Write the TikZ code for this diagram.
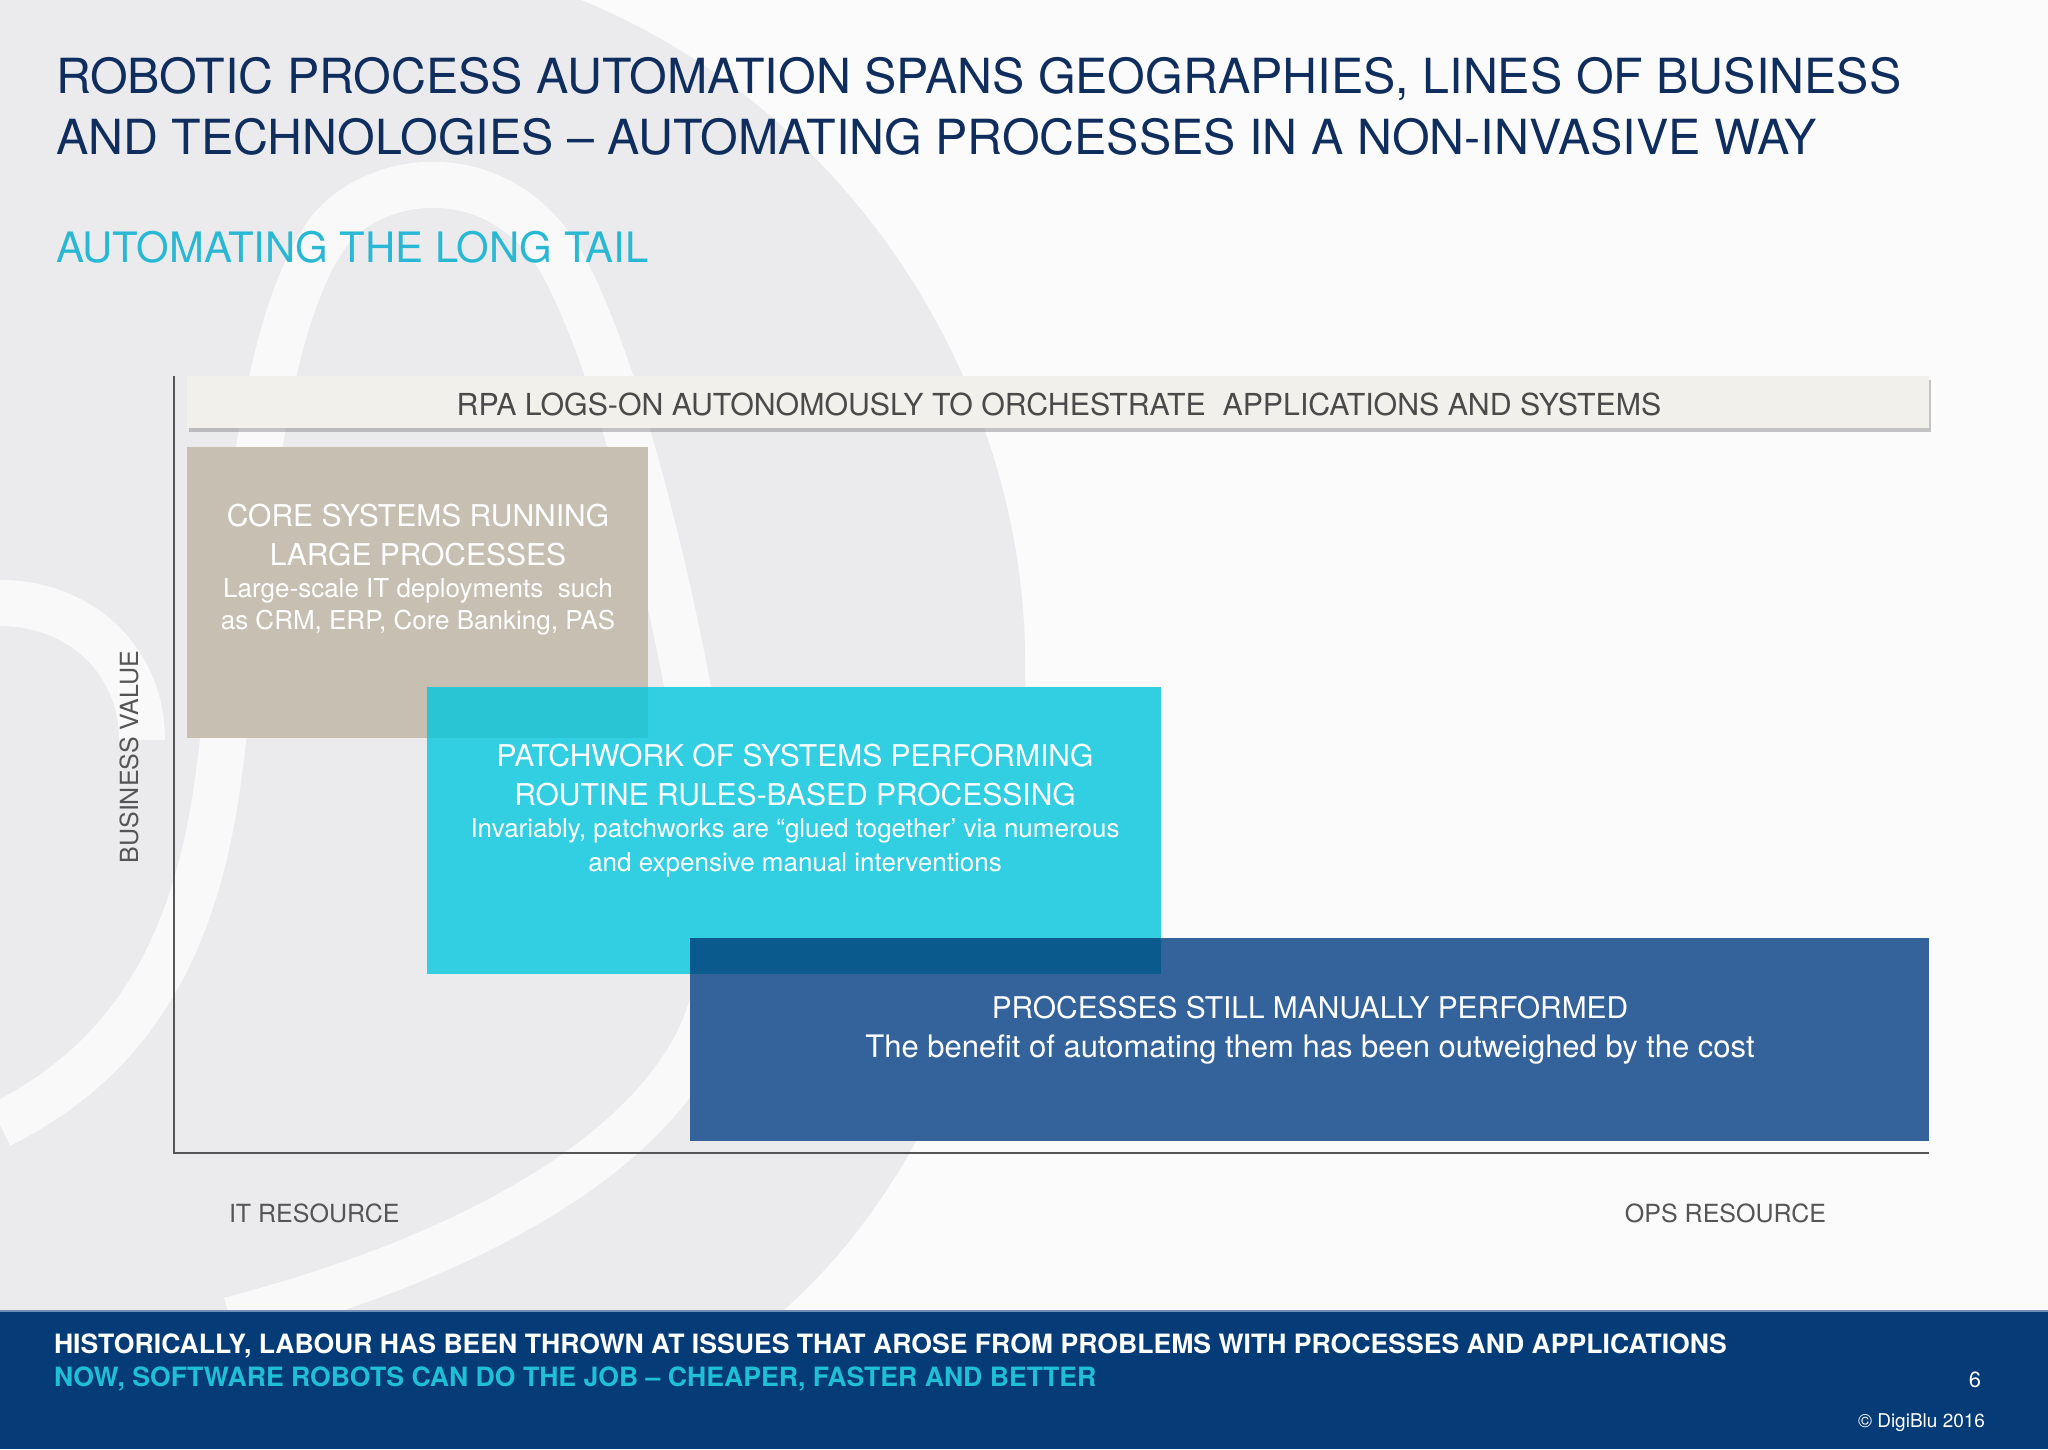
\documentclass[tikz,border=0pt]{standalone}
\usepackage{fontspec}
\setmainfont{TeX Gyre Heros}
\definecolor{navy}{HTML}{0F2E5E}
\definecolor{subcyan}{HTML}{29B8D3}
\definecolor{bgwhite}{HTML}{FBFBFC}
\definecolor{bggray}{HTML}{EBEBED}
\definecolor{barfill}{HTML}{F1F0EB}
\definecolor{bartext}{HTML}{4A4A4A}
\definecolor{corefill}{HTML}{C8BFB3}
\definecolor{patchfill}{HTML}{31CFE1}
\definecolor{ovlone}{HTML}{2AC5D5}
\definecolor{procfill}{HTML}{33639A}
\definecolor{ovltwo}{HTML}{0A5A8E}
\definecolor{axisgray}{HTML}{555555}
\definecolor{labgray}{HTML}{555555}
\definecolor{footfill}{HTML}{053C78}
\definecolor{footline}{HTML}{6F8FB8}
\definecolor{footcyan}{HTML}{1FBFD8}
\newcommand{\myfs}[1]{\fontsize{#1}{#1}\selectfont}
\begin{document}
\begin{tikzpicture}[x=1pt,y=-1pt,
  lbl/.style={inner sep=0pt,outer sep=0pt},
  wm/.style={draw=white,line width=46pt,line cap=butt,opacity=.75},
  axisline/.style={draw=axisgray,line width=1.6pt},
  boxtitle/.style={lbl,anchor=base,text=white,font=\myfs{30}},
  boxsub/.style={lbl,anchor=base,text=white,font=\myfs{26}}]
\useasboundingbox (0,0) rectangle (2048,1449);
% background and watermark
\fill[bgwhite] (0,0) rectangle (2048,1449);
\fill[bggray] (0,0) -- (581,0) .. controls (850,110) and (1020,380) .. (1025,650)
  .. controls (1030,950) and (930,1180) .. (784,1310) -- (0,1310) -- cycle;
\draw[wm] (0,603) .. controls (80,603) and (142,660) .. (142,740);
\draw[wm] (0,1125) .. controls (130,1060) and (195,950) .. (218,780)
  .. controls (245,580) and (255,330) .. (330,230)
  .. controls (380,170) and (500,160) .. (560,260)
  .. controls (640,400) and (720,800) .. (720,950)
  .. controls (720,1120) and (500,1250) .. (230,1320);
% titles
\node[lbl,anchor=base west,text=navy,font=\myfs{48.4}] (t1) at (56,93) {ROBOTIC PROCESS AUTOMATION SPANS GEOGRAPHIES, LINES OF BUSINESS};
\node[lbl,anchor=base west,text=navy,font=\myfs{48.4}] (t2) at (56,154) {AND TECHNOLOGIES – AUTOMATING PROCESSES IN A NON-INVASIVE WAY};
\node[lbl,anchor=base west,text=subcyan,font=\myfs{41.9}] (st) at (56,262) {AUTOMATING THE LONG TAIL};
% axes
\coordinate (ytop) at (174,376);
\coordinate (orig) at (174,1153);
\coordinate (xend) at (1929,1153);
\draw[axisline] (ytop) -- (orig) -- (xend);
% RPA bar
\fill[gray,opacity=.45] (189,380) rectangle (1931,432);
\fill[barfill] (187,376) rectangle (1929,428);
\node[lbl,anchor=base,text=bartext,font=\myfs{30.3}] (rpa) at (1059,415) {RPA LOGS-ON AUTONOMOUSLY TO ORCHESTRATE\ \ APPLICATIONS AND SYSTEMS};
% boxes
\fill[corefill] (187,447) rectangle (648,738);
\fill[patchfill] (427,687) rectangle (1161,974);
\fill[ovlone] (427,687) rectangle (648,738);
\fill[procfill] (690,938) rectangle (1929,1141);
\fill[ovltwo] (690,938) rectangle (1161,974);
% core text
\node[boxtitle] (c1) at (418,526) {CORE SYSTEMS RUNNING};
\node[boxtitle] (c2) at (418,565) {LARGE PROCESSES};
\node[boxsub] (c3) at (418,597) {Large-scale IT deployments\ \ such};
\node[boxsub] (c4) at (418,629) {as CRM, ERP, Core Banking, PAS};
% patchwork text
\node[boxtitle] (p1) at (795,766) {PATCHWORK OF SYSTEMS PERFORMING};
\node[boxtitle] (p2) at (795,805) {ROUTINE RULES-BASED PROCESSING};
\node[boxsub] (p3) at (795,837) {Invariably, patchworks are “glued together’ via numerous};
\node[boxsub] (p4) at (795,871) {and expensive manual interventions};
% processes text
\node[boxtitle,font=\myfs{29.9}] (m1) at (1310,1018) {PROCESSES STILL MANUALLY PERFORMED};
\node[boxtitle,font=\myfs{31}] (m2) at (1310,1057) {The benefit of automating them has been outweighed by the cost};
% axis labels
\node[lbl,rotate=90,text=labgray,font=\myfs{25}] (bv) at (129,757) {BUSINESS VALUE};
\node[lbl,anchor=base west,text=labgray,font=\myfs{25}] (itr) at (229,1222) {IT RESOURCE};
\node[lbl,anchor=base east,text=labgray,font=\myfs{25}] (ops) at (1826,1222) {OPS RESOURCE};
% footer
\fill[footfill] (0,1310) rectangle (2048,1449);
\draw[footline,line width=2pt] (0,1311) -- (2048,1311);
\node[lbl,anchor=base west,text=white,font=\bfseries\myfs{26.6}] (f1) at (54,1353) {HISTORICALLY, LABOUR HAS BEEN THROWN AT ISSUES THAT AROSE FROM PROBLEMS WITH PROCESSES AND APPLICATIONS};
\node[lbl,anchor=base west,text=footcyan,font=\bfseries\myfs{26.6}] (f2) at (54,1386) {NOW, SOFTWARE ROBOTS CAN DO THE JOB – CHEAPER, FASTER AND BETTER};
\node[lbl,anchor=base,text=white,font=\myfs{22}] (pg) at (1975,1387) {6};
\node[lbl,anchor=base east,text=white,font=\myfs{19}] (cr) at (1985,1427) {© DigiBlu 2016};
\end{tikzpicture}
\end{document}
